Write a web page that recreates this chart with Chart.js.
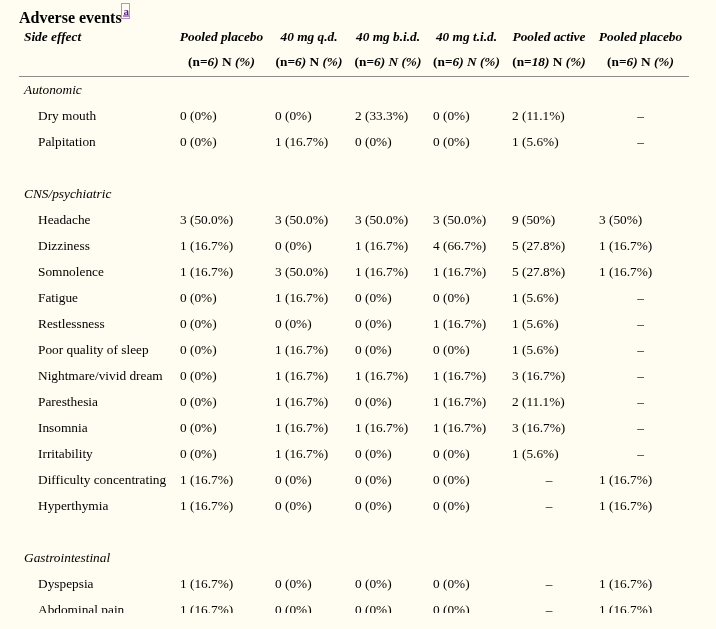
<!DOCTYPE html>
<html>
<head>
<meta charset="utf-8">
<title>Adverse events</title>
<script src="https://cdn.jsdelivr.net/npm/chart.js@4.4.0/dist/chart.umd.min.js"></script>
<style>
  html, body { margin: 0; padding: 0; background: #fffdf1; }
  #wrap { width: 716px; height: 629px; }
</style>
</head>
<body>
<div id="wrap"><canvas id="aeTable" width="716" height="629"></canvas></div>
<script>
// Table data
const title = "Adverse events";
const footnote = "a";
const firstHeader = "Side effect";
const columnLabels = ["Pooled placebo", "40 mg q.d.", "40 mg b.i.d.", "40 mg t.i.d.", "Pooled active", "Pooled placebo"];
const groupSizes = [6, 6, 6, 6, 18, 6];

const rowLabels = [
    "Autonomic", "Dry mouth", "Palpitation", "",
    "CNS/psychiatric", "Headache", "Dizziness", "Somnolence", "Fatigue", "Restlessness",
    "Poor quality of sleep", "Nightmare/vivid dream", "Paresthesia", "Insomnia", "Irritability",
    "Difficulty concentrating", "Hyperthymia", "",
    "Gastrointestinal", "Dyspepsia", "Abdominal pain"
];
// g = group heading, i = item, b = blank spacer row
const rowKinds = ["g", "i", "i", "b", "g", "i", "i", "i", "i", "i", "i", "i", "i", "i", "i", "i", "i", "b", "g", "i", "i"];

const pooledPlacebo = [null, "0 (0%)", "0 (0%)", null, null, "3 (50.0%)", "1 (16.7%)", "1 (16.7%)", "0 (0%)", "0 (0%)", "0 (0%)", "0 (0%)", "0 (0%)", "0 (0%)", "0 (0%)", "1 (16.7%)", "1 (16.7%)", null, null, "1 (16.7%)", "1 (16.7%)"];
const qd40 = [null, "0 (0%)", "1 (16.7%)", null, null, "3 (50.0%)", "0 (0%)", "3 (50.0%)", "1 (16.7%)", "0 (0%)", "1 (16.7%)", "1 (16.7%)", "1 (16.7%)", "1 (16.7%)", "1 (16.7%)", "0 (0%)", "0 (0%)", null, null, "0 (0%)", "0 (0%)"];
const bid40 = [null, "2 (33.3%)", "0 (0%)", null, null, "3 (50.0%)", "1 (16.7%)", "1 (16.7%)", "0 (0%)", "0 (0%)", "0 (0%)", "1 (16.7%)", "0 (0%)", "1 (16.7%)", "0 (0%)", "0 (0%)", "0 (0%)", null, null, "0 (0%)", "0 (0%)"];
const tid40 = [null, "0 (0%)", "0 (0%)", null, null, "3 (50.0%)", "4 (66.7%)", "1 (16.7%)", "0 (0%)", "1 (16.7%)", "0 (0%)", "1 (16.7%)", "1 (16.7%)", "1 (16.7%)", "0 (0%)", "0 (0%)", "0 (0%)", null, null, "0 (0%)", "0 (0%)"];
const pooledActive = [null, "2 (11.1%)", "1 (5.6%)", null, null, "9 (50%)", "5 (27.8%)", "5 (27.8%)", "1 (5.6%)", "1 (5.6%)", "1 (5.6%)", "3 (16.7%)", "2 (11.1%)", "3 (16.7%)", "1 (5.6%)", "–", "–", null, null, "–", "–"];
const pooledPlacebo2 = [null, "–", "–", null, null, "3 (50%)", "1 (16.7%)", "1 (16.7%)", "–", "–", "–", "–", "–", "–", "–", "1 (16.7%)", "1 (16.7%)", null, null, "1 (16.7%)", "1 (16.7%)"];

const columnValues = [pooledPlacebo, qd40, bid40, tid40, pooledActive, pooledPlacebo2];

// Layout (page style, not data)
const FAMILY = "'Liberation Serif', 'Times New Roman', serif";
const colLeft = [180, 275, 355, 433, 512, 599];
const colRight = [263, 343, 421, 500, 586, 682];
const italicN = [false, false, true, true, false, false];
const DASH = "–";

const tablePlugin = {
    id: "aeTable",
    afterDraw(chart) {
        const ctx = chart.ctx;
        const yScale = chart.scales.y;
        const top = chart.chartArea.top;
        ctx.save();
        ctx.fillStyle = "#000";
        ctx.textBaseline = "alphabetic";
        ctx.textAlign = "left";

        // Title with footnote link
        ctx.font = "bold 16px " + FAMILY;
        ctx.fillText(title, 19, top - 53);
        const tw = ctx.measureText(title).width;
        const fx = Math.round(19 + tw) - 1;
        ctx.strokeStyle = "#6a2ca0";
        ctx.lineWidth = 1;
        ctx.setLineDash([1, 1]);
        ctx.strokeRect(fx + 0.5, 3.5, 8, 15);
        ctx.setLineDash([]);
        ctx.fillStyle = "#551a8b";
        ctx.font = "bold 11px " + FAMILY;
        ctx.fillText(footnote, fx + 2.5, 14.5);
        ctx.fillRect(fx + 2, 15.5, 6, 1);
        ctx.fillStyle = "#000";

        // Header row 1
        const BI = "italic bold 13.33px " + FAMILY;
        const B = "bold 13.33px " + FAMILY;
        ctx.font = BI;
        ctx.fillText(firstHeader, 24, top - 35);
        ctx.textAlign = "center";
        columnLabels.forEach((lab, j) => {
            ctx.fillText(lab, (colLeft[j] + colRight[j]) / 2, top - 35);
        });

        // Header row 2: "(n=6) N (%)" with mixed italics
        ctx.textAlign = "left";
        groupSizes.forEach((n, j) => {
            const segs = [
                ["(n=", B], [n + ")", BI], [" ", B],
                ["N", italicN[j] ? BI : B], [" ", B], ["(%)", BI]
            ];
            let total = 0;
            segs.forEach(s => { ctx.font = s[1]; total += ctx.measureText(s[0]).width; });
            let x = (colLeft[j] + colRight[j]) / 2 - total / 2;
            segs.forEach(s => {
                ctx.font = s[1];
                ctx.fillText(s[0], x, top - 10);
                x += ctx.measureText(s[0]).width;
            });
        });

        // Header rule
        ctx.strokeStyle = "#8c8c8c";
        ctx.lineWidth = 1;
        ctx.beginPath();
        ctx.moveTo(19, top + 0.5);
        ctx.lineTo(689, top + 0.5);
        ctx.stroke();

        // Body rows, clipped like the page view
        ctx.beginPath();
        ctx.rect(0, top + 1, chart.width, 613 - top - 1);
        ctx.clip();
        const R = "13.33px " + FAMILY;
        const I = "italic 13.33px " + FAMILY;
        rowLabels.forEach((label, i) => {
            const y = yScale.getPixelForValue(i) + 5;
            const kind = rowKinds[i];
            if (kind === "b") return;
            ctx.textAlign = "left";
            if (kind === "g") {
                ctx.font = I;
                ctx.fillText(label, 24, y);
                return;
            }
            ctx.font = R;
            ctx.fillText(label, 38, y);
            columnValues.forEach((col, j) => {
                const v = col[i];
                if (v == null) return;
                if (v === DASH) {
                    ctx.textAlign = "center";
                    ctx.fillText(v, (colLeft[j] + colRight[j]) / 2, y);
                } else {
                    ctx.textAlign = "left";
                    ctx.fillText(v, colLeft[j], y);
                }
            });
        });
        ctx.restore();
    }
};

new Chart(document.getElementById("aeTable").getContext("2d"), {
    type: "bar",
    data: {
        labels: rowLabels,
        datasets: []
    },
    options: {
        indexAxis: "y",
        responsive: false,
        animation: false,
        devicePixelRatio: 1,
        layout: { padding: { top: 76, bottom: 7, left: 0, right: 0 } },
        plugins: {
            legend: { display: false },
            tooltip: { enabled: false }
        },
        scales: {
            x: { type: "linear", display: false, min: 0, max: 1 },
            y: { type: "category", display: false, offset: true }
        }
    },
    plugins: [tablePlugin]
});
</script>
</body>
</html>
